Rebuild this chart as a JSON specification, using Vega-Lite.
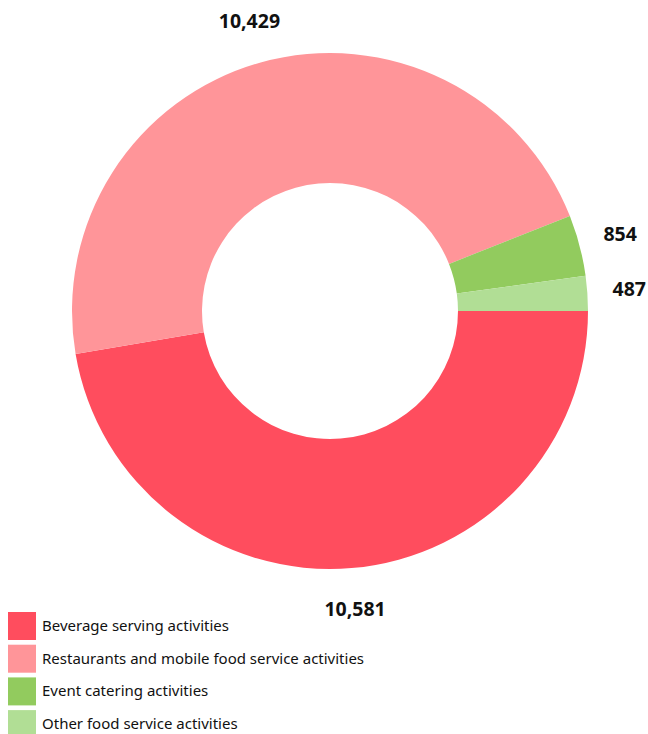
{
  "$schema": "https://vega.github.io/schema/vega-lite/v6.json",
  "width": 636,
  "height": 622,
  "padding": {"left": 12, "top": 0, "right": 0, "bottom": 112},
  "autosize": "none",
  "background": "white",
  "config": {"view": {"stroke": null}},
  "data": {
    "values": [
      {"Activity": "Beverage serving activities", "Count": 10581, "Order": 1},
      {"Activity": "Restaurants and mobile food service activities", "Count": 10429, "Order": 2},
      {"Activity": "Event catering activities", "Count": 854, "Order": 3},
      {"Activity": "Other food service activities", "Count": 487, "Order": 4}
    ]
  },
  "encoding": {
    "theta": {"field": "Count", "type": "quantitative", "stack": true, "scale": {"range": [1.5707963, 7.8539816]}},
    "order": {"field": "Order", "type": "quantitative"}
  },
  "layer": [
    {
      "mark": {"type": "arc", "outerRadius": 258, "innerRadius": 128},
      "encoding": {
        "color": {
          "field": "Activity",
          "type": "nominal",
          "scale": {
            "domain": ["Beverage serving activities", "Restaurants and mobile food service activities", "Event catering activities", "Other food service activities"],
            "range": ["#FF4D5E", "#FF9599", "#92CB5E", "#B1DE95"]
          },
          "legend": {
            "title": null,
            "orient": "none",
            "legendX": -4,
            "legendY": 612,
            "symbolType": "square",
            "symbolSize": 784,
            "symbolStrokeWidth": 0,
            "rowPadding": 4.7,
            "labelOffset": 6,
            "labelFont": "Noto Sans",
            "labelFontSize": 15,
            "labelColor": "#111111",
            "labelLimit": 400,
            "padding": 0
          }
        }
      }
    },
    {
      "mark": {"type": "text", "radius": 300, "font": "Noto Sans", "fontWeight": "bold", "fontSize": 19.5, "color": "#111111"},
      "encoding": {
        "text": {"field": "Count", "type": "quantitative", "format": ","}
      }
    }
  ]
}
